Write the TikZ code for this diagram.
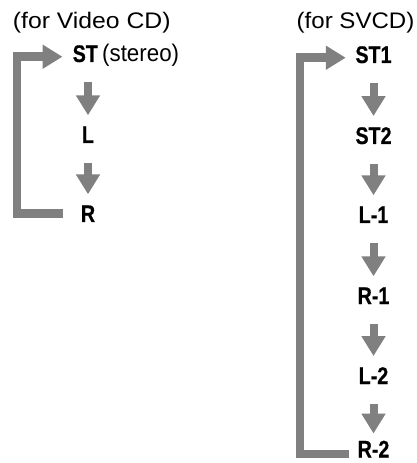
\documentclass[tikz,border=0pt]{standalone}
\usepackage{fontspec}
\setmainfont{Liberation Sans}
\newfontfamily\hdrfont{Liberation Sans}[FakeStretch=1.1]
\newfontfamily\hdrsfont{Liberation Sans}[FakeStretch=1.07]
\newfontfamily\lblfont{Liberation Sans}[FakeStretch=0.82,BoldFeatures={FakeStretch=0.82,FakeBold=0.6}]
\newfontfamily\sterfont{Liberation Sans}[FakeStretch=0.93]
\usetikzlibrary{arrows.meta}
\definecolor{arrgray}{RGB}{128,128,128}
\begin{document}
\begin{tikzpicture}[x=1bp,y=-1bp,
 hdr/.style={inner sep=0,anchor=base west,font=\hdrfont\fontsize{22.5bp}{26bp}\selectfont},
 hdrs/.style={inner sep=0,anchor=base west,font=\hdrsfont\fontsize{22.5bp}{26bp}\selectfont},
 lbl/.style={inner sep=0,anchor=base,font=\lblfont\bfseries\fontsize{24bp}{28bp}\selectfont},
 stereotxt/.style={inner sep=0,anchor=base west,font=\sterfont\fontsize{24bp}{28bp}\selectfont},
 downarr/.style={draw=arrgray,line width=8bp,-{Triangle[width=23bp,length=20bp]},shorten <=20bp,shorten >=11bp},
 looparr/.style={draw=arrgray,line width=8.5bp,line join=miter,-{Triangle[width=23bp,length=20bp]}},
]
\useasboundingbox (0,0) rectangle (416,463);
\clip (0,0) rectangle (416,463);
% headers
\node[hdr] (hv) at (12.7,29) {(for Video CD)};
\node[hdrs] (hs) at (296.5,29) {(for SVCD)};
% left column
\node[lbl,anchor=base west] (st) at (72.5,62) {ST};
\node[stereotxt] (stereo) at (102,62) {(stereo)};
\node[lbl] (l) at (88,143) {L};
\node[lbl] (r) at (88,222) {R};
% right column
\node[lbl] (st1) at (373.5,63) {ST1};
\node[lbl] (st2) at (373.5,144) {ST2};
\node[lbl] (l1) at (373.5,223) {L-1};
\node[lbl] (r1) at (373.5,304) {R-1};
\node[lbl] (l2) at (373.5,384) {L-2};
\node[lbl] (r2) at (373.5,457.5) {R-2};
% down arrows
\draw[downarr] (st.south -| l.north) -- (l.north);
\draw[downarr] (l.south) -- (r.north);
\draw[downarr] (st1.south) -- (st2.north);
\draw[downarr] (st2.south) -- (l1.north);
\draw[downarr] (l1.south) -- (r1.north);
\draw[downarr] (r1.south) -- (l2.north);
\draw[downarr, shorten >=7bp] (l2.south) -- (r2.north);
% loops
\coordinate (lv) at (17,0);
\coordinate (rv) at (300,0);
\coordinate (stin) at ([xshift=-10bp,yshift=-3bp]st.west);
\coordinate (st1in) at ([xshift=-9.5bp,yshift=-3bp]st1.west);
\coordinate (r2in) at ([xshift=-8bp,yshift=-5bp]r2.west);
\draw[looparr] ([xshift=-18bp]r.west) -- (lv |- r.west) -- (lv |- stin) -- (stin);
\draw[looparr] (r2in) -- (rv |- r2in) -- (rv |- st1in) -- (st1in);
\end{tikzpicture}
\end{document}
